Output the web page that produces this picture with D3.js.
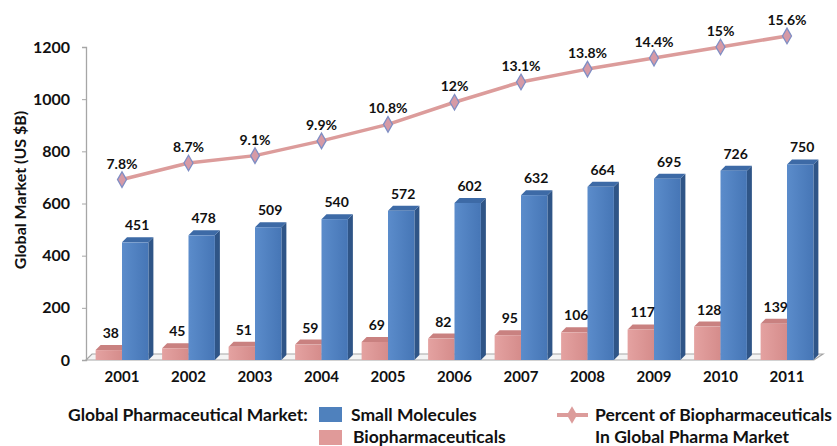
<!DOCTYPE html>
<html><head><meta charset="utf-8">
<script src="https://cdn.jsdelivr.net/npm/d3@7"></script>
<style>
html,body{margin:0;padding:0;background:#fff;}
svg{display:block;font-family:Lato,"Open Sans",sans-serif;font-weight:bold;}
</style></head>
<body><svg id="c" width="837" height="446"></svg>
<script>
const years = ["2001","2002","2003","2004","2005","2006","2007","2008","2009","2010","2011"];
const smallMolecules = [451,478,509,540,572,602,632,664,695,726,750];
const biopharma = [38,45,51,59,69,82,95,106,117,128,139];
const percentBio = [7.8,8.7,9.1,9.9,10.8,12,13.1,13.8,14.4,15,15.6];
const yTicks = [0,200,400,600,800,1000,1200];

const svg = d3.select("#c");
const x0 = 88.75, step = 66.5;
const x = d3.scaleBand().domain(years).range([x0, x0 + step*years.length]).padding(0);
const sub = d3.scaleBand().domain(["bio","small"]).range([0, x.bandwidth()]).paddingInner(0).paddingOuter(0.26);
const y = d3.scaleLinear().domain([0,1200]).range([360,47]);
const y2 = d3.scaleLinear().domain([-2,15]).range([360,47]);
const D = 5; // 3D depth

// floor
const fl = 86, fr = 814;
svg.append("path")
  .attr("d", `M${fl},${y(0)} L${fr},${y(0)} L${fr+D+4},${y(0)-D-1} L${fl+D+1},${y(0)-D-1} Z`)
  .attr("fill","#f4f4f4").attr("stroke","#a6a6a6").attr("stroke-width",1.2);

// y axis
const yAxis = d3.axisLeft(y).tickValues(yTicks).tickFormat(d3.format("d")).tickSize(4).tickPadding(12);
const ga = svg.append("g").attr("transform",`translate(86,0)`).call(yAxis);
ga.select(".domain").attr("stroke","#a6a6a6").attr("stroke-width",1.3);
ga.selectAll(".tick line").attr("stroke","#a6a6a6");
ga.selectAll(".tick text").attr("font-size",16).attr("font-weight","bold").attr("fill","#111").attr("font-family","Lato");

svg.append("text").attr("transform","translate(26,190) rotate(-90)")
  .attr("text-anchor","middle").attr("font-size",16).attr("fill","#111")
  .text("Global Market (US $B)");

// gradients
const defs = svg.append("defs");
function grad(id, c1, c2){
  const g = defs.append("linearGradient").attr("id",id).attr("x1","0").attr("x2","1").attr("y1","0").attr("y2","0");
  g.append("stop").attr("offset","0").attr("stop-color",c1);
  g.append("stop").attr("offset","1").attr("stop-color",c2);
}
grad("gBlue","#5b8ccb","#4676b6");
grad("gPink","#e4a2a1","#d58c8b");

function bar3d(g, bx, bw, val, front, side, top){
  const yt = y(val), yb = y(0);
  g.append("path").attr("d",`M${bx+bw},${yb} L${bx+bw+D},${yb-D} L${bx+bw+D},${yt-D} L${bx+bw},${yt} Z`).attr("fill",side);
  g.append("path").attr("d",`M${bx},${yt} L${bx+D},${yt-D} L${bx+bw+D},${yt-D} L${bx+bw},${yt} Z`).attr("fill",top);
  g.append("rect").attr("x",bx).attr("y",yt).attr("width",bw).attr("height",yb-yt).attr("fill",front);
}

const bars = svg.append("g");
years.forEach((yr,i)=>{
  const bx1 = x(yr)+sub("bio"), bw = sub.bandwidth();
  const bx2 = x(yr)+sub("small");
  bar3d(bars, bx1, bw, biopharma[i], "url(#gPink)", "#b87372", "#c98180");
  bar3d(bars, bx2, bw, smallMolecules[i], "url(#gBlue)", "#2f5587", "#3d6aa6");
  bars.append("text").attr("x",bx1+bw/2+2).attr("y",y(biopharma[i])-12).attr("text-anchor","middle")
    .attr("font-size",14).attr("fill","#111").text(biopharma[i]);
  bars.append("text").attr("x",bx2+bw/2+2).attr("y",y(smallMolecules[i])-12).attr("text-anchor","middle")
    .attr("font-size",14).attr("fill","#111").text(smallMolecules[i]);
});

// x labels
svg.append("g").selectAll("text").data(years).join("text")
  .attr("x",d=>x(d)+x.bandwidth()/2).attr("y",382).attr("text-anchor","middle")
  .attr("font-size",15).attr("fill","#111").text(d=>d);

// line
const cx = d => x(d)+x.bandwidth()/2;
const line = d3.line().x((d,i)=>cx(years[i])).y(d=>y2(d));
svg.append("path").datum(percentBio).attr("d",line).attr("fill","none")
  .attr("stroke","#dc9c9b").attr("stroke-width",3.5).attr("stroke-linejoin","round");
const dia = d3.symbol().type(d3.symbolDiamond).size(70);
svg.append("g").selectAll("path").data(percentBio).join("path")
  .attr("d",dia).attr("transform",(d,i)=>`translate(${cx(years[i])},${y2(d)})`)
  .attr("fill","#d69aa6").attr("stroke","#7f8ec4").attr("stroke-width",1.3);
svg.append("g").selectAll("text").data(percentBio).join("text")
  .attr("x",(d,i)=>cx(years[i])).attr("y",d=>y2(d)-11).attr("text-anchor","middle")
  .attr("font-size",14).attr("fill","#111").text(d=>d+"%");

// legend
const lg = svg.append("g").attr("font-size",17.5).attr("fill","#111");
lg.append("text").attr("x",68).attr("y",421).text("Global Pharmaceutical Market:");
lg.append("rect").attr("x",319).attr("y",407).attr("width",23).attr("height",15).attr("fill","#4f81bd");
lg.append("text").attr("x",351).attr("y",421).text("Small Molecules");
lg.append("rect").attr("x",319).attr("y",430).attr("width",23).attr("height",15).attr("fill","#e09a99");
lg.append("text").attr("x",353).attr("y",443).text("Biopharmaceuticals");
lg.append("line").attr("x1",557).attr("x2",588).attr("y1",415).attr("y2",415).attr("stroke","#dc9c9b").attr("stroke-width",4);
lg.append("path").attr("d",d3.symbol().type(d3.symbolDiamond).size(90)).attr("transform","translate(572,415)").attr("fill","#dc9c9b");
lg.append("text").attr("x",595).attr("y",421).text("Percent of Biopharmaceuticals");
lg.append("text").attr("x",595).attr("y",443).text("In Global Pharma Market");
</script></body></html>
